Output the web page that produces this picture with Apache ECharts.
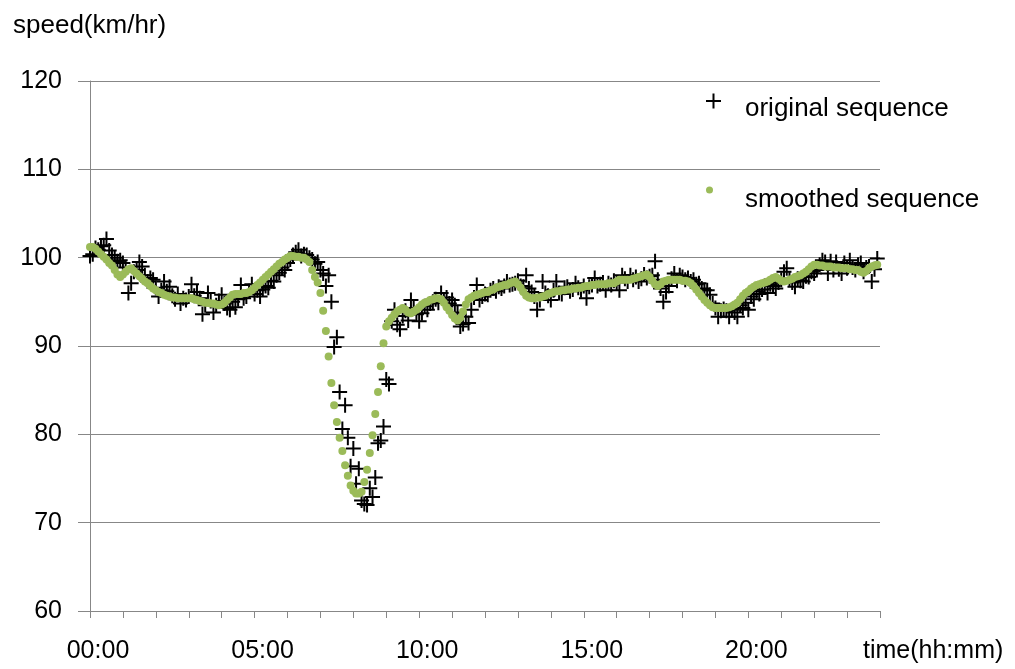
<!DOCTYPE html>
<html>
<head>
<meta charset="utf-8">
<script src="https://cdn.jsdelivr.net/npm/echarts@6/dist/echarts.min.js"></script>
<style>
  html, body { margin: 0; padding: 0; background: #fff; }
  #speedchart { width: 1015px; height: 669px; }
</style>
</head>
<body>
<div id="speedchart"></div>
<script type="text/javascript">
// one point every 5 minutes, one row per hour
var original = [
  100.2, 100.4, 101.1, 100.9, 101.3, 101.4, 102.1, 100.8, 100.3, 100.0, 99.6, 99.7,
  99.4, 98.9, 96.0, 97.1, 98.4, 98.6, 99.5, 99.0, 98.0, 97.3, 97.7, 97.5,
  96.6, 95.6, 96.3, 97.3, 96.2, 96.7, 95.7, 95.3, 95.9, 94.8, 95.4, 95.2,
  95.6, 97.0, 95.7, 96.1, 95.4, 93.6, 94.6, 96.0, 95.1, 93.8, 94.6, 95.1,
  95.8, 94.8, 94.3, 94.1, 95.0, 94.4, 95.3, 96.9, 95.4, 95.6, 96.2, 97.0,
  95.9, 96.3, 95.6, 96.4, 96.8, 96.6, 97.4, 97.3, 98.0, 98.3, 98.9, 98.6,
  99.4, 99.8, 100.3, 100.6, 100.9, 100.2, 100.4, 100.3, 100.0, 99.8, 99.3, 99.5,
  98.6, 98.2, 96.8, 98.0, 95.0, 89.9, 91.0, 84.8, 80.6, 83.3, 79.6, 76.4,
  78.4, 74.4, 76.1, 72.5, 72.1, 72.0, 73.9, 72.9, 75.1, 79.0, 79.3, 80.9,
  86.2, 85.7, 92.8, 94.1, 92.4, 91.9, 93.4, 94.0, 92.9, 95.2, 94.3, 93.6,
  92.8, 93.7, 94.5, 94.1, 94.8, 95.0, 95.3, 94.9, 96.0, 95.2, 95.5, 94.8,
  95.2, 94.6, 93.8, 92.2, 92.5, 93.3, 92.6, 94.1, 95.5, 96.9, 95.2, 95.6,
  95.9, 95.8, 96.3, 96.5, 96.2, 96.7, 96.5, 96.8, 97.3, 96.9, 97.0, 97.1,
  97.4, 96.8, 96.7, 98.0, 96.5, 96.1, 95.6, 94.1, 95.2, 97.3, 96.0, 95.7,
  95.2, 96.3, 97.3, 96.0, 95.9, 96.6, 96.7, 96.2, 96.4, 97.1, 96.6, 96.3,
  96.8, 95.4, 96.7, 96.9, 97.7, 96.8, 97.0, 97.2, 96.3, 97.1, 96.9, 97.4,
  97.2, 96.3, 98.0, 97.6, 97.3, 98.0, 97.5, 97.8, 97.3, 97.6, 98.1, 97.7,
  97.9, 98.0, 99.6, 97.5, 96.5, 95.0, 96.1, 96.8, 97.6, 98.2, 97.4, 98.0,
  97.8, 97.5, 97.7, 97.3, 97.5, 97.0, 97.1, 96.5, 96.3, 96.3, 95.8, 94.8,
  94.3, 93.3, 94.0, 94.2, 94.0, 93.3, 94.1, 93.8, 93.3, 94.6, 94.3, 94.9,
  94.1, 95.6, 95.3, 96.2, 95.9, 96.4, 96.8, 96.0, 97.0, 96.8, 96.5, 97.2,
  97.5, 98.4, 98.8, 97.6, 97.2, 96.7, 97.6, 97.4, 97.3, 97.9, 97.8, 98.4,
  98.2, 98.6, 99.2, 99.7, 99.5, 98.2, 99.6, 98.6, 99.5, 98.7, 98.2, 99.4,
  98.8, 99.7, 98.9, 98.6, 99.2, 99.4, 98.4, 98.9, 99.0, 97.3, 98.7, 99.9
];
var smoothed = [
  101.2, 101.2, 101.0, 100.7, 100.4, 100.1, 99.8, 99.4, 99.1, 98.6, 98.1, 97.8,
  98.1, 98.4, 98.7, 98.8, 98.5, 98.2, 97.9, 97.6, 97.3, 97.1, 96.8, 96.5,
  96.3, 96.1, 96.0, 95.8, 95.7, 95.6, 95.5, 95.5, 95.4, 95.4, 95.4, 95.4,
  95.4, 95.4, 95.3, 95.2, 95.1, 95.0, 94.9, 94.9, 94.8, 94.8, 94.7, 94.6,
  94.7, 94.9, 95.2, 95.5, 95.8, 95.9, 95.9, 95.9, 96.0, 96.0, 96.1, 96.3,
  96.6, 96.9, 97.2, 97.5, 97.8, 98.1, 98.4, 98.7, 99.0, 99.3, 99.5, 99.8,
  100.0, 100.2, 100.2, 100.1, 100.1, 100.0, 100.0, 99.8, 99.5, 98.6, 97.8, 97.2,
  96.0, 94.0, 91.7, 88.8, 85.8, 83.3, 81.4, 79.6, 78.1, 76.5, 75.3, 74.2,
  73.6, 73.3, 73.3, 73.5, 74.6, 76.0, 77.9, 79.9, 82.3, 84.8, 87.7, 90.3,
  92.2, 92.8, 93.2, 93.6, 93.9, 94.1, 94.3, 94.1, 93.8, 93.7, 93.9, 94.1,
  94.4, 94.7, 94.9, 95.0, 95.2, 95.3, 95.4, 95.4, 95.3, 94.9, 94.4, 94.0,
  93.5, 93.1, 92.9, 93.2, 93.9, 94.7, 95.3, 95.5, 95.7, 95.8, 95.9, 96.0,
  96.1, 96.1, 96.3, 96.4, 96.6, 96.7, 96.8, 96.9, 96.9, 97.1, 97.2, 97.3,
  97.0, 96.6, 96.1, 95.7, 95.5, 95.4, 95.4, 95.5, 95.5, 95.6, 95.7, 95.9,
  96.0, 96.1, 96.2, 96.2, 96.3, 96.3, 96.4, 96.4, 96.5, 96.5, 96.6, 96.6,
  96.7, 96.8, 96.8, 96.9, 96.9, 97.0, 97.0, 97.0, 97.0, 97.1, 97.1, 97.1,
  97.3, 97.5, 97.5, 97.5, 97.5, 97.5, 97.6, 97.7, 97.8, 97.9, 98.0, 98.1,
  97.8, 97.4, 97.0, 96.8, 97.0, 97.3, 97.4, 97.5, 97.5, 97.5, 97.5, 97.5,
  97.4, 97.4, 97.3, 97.1, 96.8, 96.4, 96.0, 95.6, 95.2, 94.9, 94.6, 94.4,
  94.3, 94.3, 94.3, 94.3, 94.3, 94.4, 94.5, 94.7, 94.9, 95.3, 95.7, 96.0,
  96.2, 96.5, 96.7, 96.9, 97.0, 97.1, 97.2, 97.3, 97.5, 97.7, 97.8, 97.6,
  97.4, 97.3, 97.4, 97.5, 97.6, 97.8, 97.9, 98.0, 98.2, 98.4, 98.7, 99.0,
  99.2, 99.2, 99.1, 99.1, 99.0, 99.0, 99.0, 98.9, 98.9, 98.9, 98.8, 98.8,
  98.8, 98.7, 98.7, 98.6, 98.6, 98.4, 98.3, 98.5, 98.8, 99.0, 99.1, 99.2
];
var labelTimes = ['00:00', '05:00', '10:00', '15:00', '20:00'];

// 5 minute categories, 00:00 .. 24:00
var times = [];
for (var m = 0; m <= 24 * 60; m += 5) {
    var hh = Math.floor(m / 60), mm = m % 60;
    times.push((hh < 10 ? '0' : '') + hh + ':' + (mm < 10 ? '0' : '') + mm);
}

var FONT = 'Liberation Sans, Arial, sans-serif';
var PLUS = 'path://M6.5,0 H8.5 V6.5 H15 V8.5 H8.5 V15 H6.5 V8.5 H0 V6.5 H6.5 Z';

// legend text sits a bit below its marker, as in the original
function lowered(name) { return '\n' + name; }

var myChart = echarts.init(document.getElementById('speedchart'));
var option = {
    animation: false,
    backgroundColor: '#fff',
    title: {
        text: 'speed(km/hr)',
        left: 8,
        top: 8,
        textStyle: { fontFamily: FONT, fontSize: 26, fontWeight: 'normal', color: '#000' }
    },
    legend: [
        {
            data: ['original sequence'],
            left: 706,
            top: 80,
            padding: 0,
            itemWidth: 15,
            itemHeight: 15,
            formatter: lowered,
            textStyle: { fontFamily: FONT, fontSize: 26, color: '#000', lineHeight: 16, padding: [0, 0, 0, 19] }
        },
        {
            data: [{ name: 'smoothed sequence', icon: 'circle' }],
            left: 706,
            top: 167,
            padding: 0,
            itemWidth: 15,
            itemHeight: 7,
            formatter: lowered,
            textStyle: { fontFamily: FONT, fontSize: 26, color: '#000', lineHeight: 20, padding: [0, 0, 0, 23] }
        }
    ],
    grid: { left: 90, right: 135, top: 81, bottom: 58, containLabel: false },
    xAxis: {
        type: 'category',
        data: times,
        boundaryGap: false,
        name: 'time(hh:mm)',
        nameLocation: 'end',
        nameGap: -17,
        nameTextStyle: {
            fontFamily: FONT, fontSize: 25, color: '#000',
            align: 'left', verticalAlign: 'top', lineHeight: 26, padding: [27, 0, 0, 0]
        },
        axisLine: { lineStyle: { color: '#878787', width: 1 } },
        axisTick: {
            show: true,
            length: 7,
            interval: function (idx, val) { return val.slice(3) === '00'; },
            lineStyle: { color: '#878787' }
        },
        axisLabel: {
            interval: function (idx, val) { return labelTimes.indexOf(val) >= 0; },
            margin: 28,
            padding: [0, 0, 0, 16],
            fontFamily: FONT,
            fontSize: 25,
            color: '#000'
        },
        splitLine: { show: false }
    },
    yAxis: {
        type: 'value',
        min: 60,
        max: 120,
        interval: 10,
        axisLine: { show: true, lineStyle: { color: '#878787', width: 1 } },
        axisTick: { show: true, length: 12, lineStyle: { color: '#878787' } },
        axisLabel: { margin: 28, fontFamily: FONT, fontSize: 25, color: '#000' },
        splitLine: { lineStyle: { color: '#878787', width: 1 } }
    },
    series: [
        {
            name: 'original sequence',
            type: 'scatter',
            symbol: PLUS,
            symbolSize: 15,
            itemStyle: { color: '#000', opacity: 1 },
            data: original
        },
        {
            name: 'smoothed sequence',
            type: 'scatter',
            symbol: 'circle',
            symbolSize: 8,
            itemStyle: { color: '#9bbb59', opacity: 1 },
            data: smoothed
        }
    ]
};
myChart.setOption(option);
</script>
</body>
</html>
